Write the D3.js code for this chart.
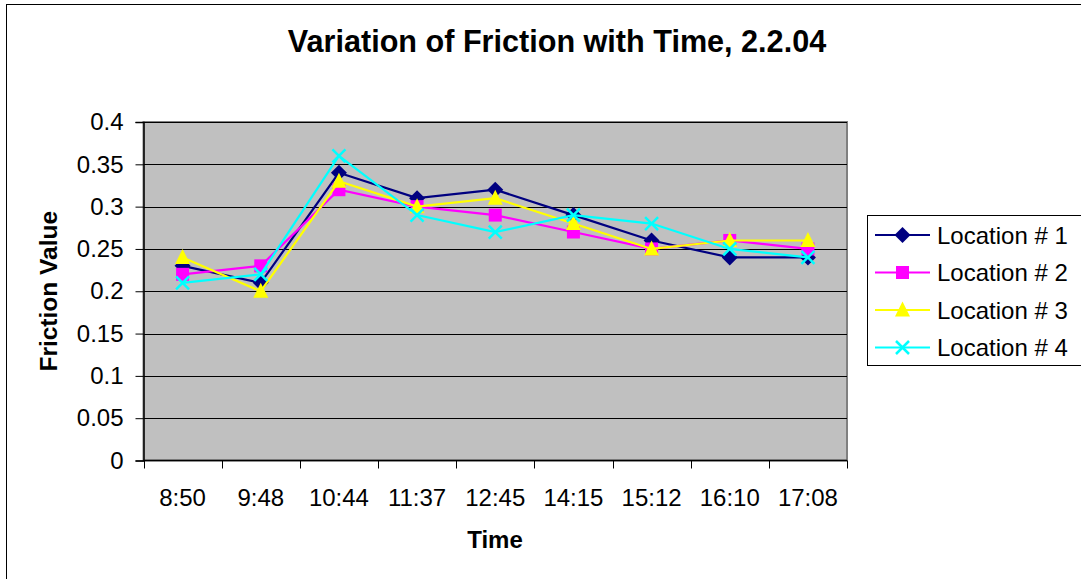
<!DOCTYPE html>
<html><head><meta charset="utf-8">
<script src="https://cdn.jsdelivr.net/npm/d3@7"></script>
<style>body{margin:0;background:#fff}svg{display:block;font-family:"Liberation Sans",Arial,sans-serif}</style>
</head><body><svg id="c" width="1081" height="579"></svg>
<script>
const categories = ["8:50","9:48","10:44","11:37","12:45","14:15","15:12","16:10","17:08"];
const loc1 = [0.23,0.21,0.34,0.31,0.32,0.29,0.26,0.24,0.24];
const loc2 = [0.22,0.23,0.32,0.30,0.29,0.27,0.25,0.26,0.25];
const loc3 = [0.24,0.20,0.33,0.30,0.31,0.28,0.25,0.26,0.26];
const loc4 = [0.21,0.22,0.36,0.29,0.27,0.29,0.28,0.25,0.24];
const seriesNames = ["Location # 1","Location # 2","Location # 3","Location # 4"];
const yTicks = [0,0.05,0.1,0.15,0.2,0.25,0.3,0.35,0.4];
const yTickLabels = ["0","0.05","0.1","0.15","0.2","0.25","0.3","0.35","0.4"];

const series = [
  {name: seriesNames[0], values: loc1, color: "#000080", marker: "diamond"},
  {name: seriesNames[1], values: loc2, color: "#FF00FF", marker: "square"},
  {name: seriesNames[2], values: loc3, color: "#FFFF00", marker: "triangle"},
  {name: seriesNames[3], values: loc4, color: "#00FFFF", marker: "x"}
];

const svg = d3.select("#c");
const L = 143.5, R = 847, T = 122, B = 460.5;

// chart border
svg.append("rect").attr("x",6.5).attr("y",4.5).attr("width",1200).attr("height",700)
  .attr("fill","#fff").attr("stroke","#000").attr("stroke-width",1);

const x = d3.scaleBand().domain(categories).range([L, R]).padding(0);
const y = d3.scaleLinear().domain([0,0.4]).range([B, T]);

// plot area
svg.append("rect").attr("x",L).attr("y",T).attr("width",R-L).attr("height",B-T)
  .attr("fill","#C0C0C0").attr("stroke","#808080").attr("stroke-width",2);

// gridlines
svg.append("g").selectAll("line").data(yTicks.filter(d=>d>0)).join("line")
  .attr("x1",L).attr("x2",R).attr("y1",d=>Math.round(y(d))+0.5).attr("y2",d=>Math.round(y(d))+0.5)
  .attr("stroke","#000").attr("stroke-width",1);

// y axis
const yAxis = d3.axisLeft(y).tickValues(yTicks).tickFormat((d,i)=>yTickLabels[i]).tickSize(8).tickPadding(12);
const gy = svg.append("g").attr("transform",`translate(${L},0)`).call(yAxis);
gy.select(".domain").attr("stroke","#000").attr("stroke-width",1.5);
gy.selectAll(".tick line").attr("stroke","#000");
gy.selectAll("text").attr("font-size",24).attr("fill","#000").attr("font-family","Liberation Sans, Arial, sans-serif");

// x axis with ticks at category boundaries
const gx = svg.append("g").attr("transform",`translate(0,${B})`);
gx.append("line").attr("x1",L).attr("x2",R).attr("y1",0).attr("y2",0).attr("stroke","#000").attr("stroke-width",1.5);
const bounds = categories.map(c=>x(c)).concat([x(categories[categories.length-1])+x.bandwidth()]);
gx.selectAll("line.t").data(bounds).join("line").attr("class","t")
  .attr("x1",d=>Math.round(d)+0.5).attr("x2",d=>Math.round(d)+0.5).attr("y1",0).attr("y2",8).attr("stroke","#000");
gx.selectAll("text").data(categories).join("text")
  .attr("x",d=>x(d)+x.bandwidth()/2).attr("y",45).attr("text-anchor","middle")
  .attr("font-size",24).attr("fill","#000").text(d=>d);

// title
svg.append("text").attr("x",557).attr("y",52).attr("text-anchor","middle")
  .attr("font-size",30.6).attr("font-weight","bold").text("Variation of Friction with Time, 2.2.04");
svg.append("text").attr("x",495).attr("y",548).attr("text-anchor","middle")
  .attr("font-size",24).attr("font-weight","bold").text("Time");
svg.append("text").attr("transform",`translate(57,${(T+B)/2}) rotate(-90)`).attr("text-anchor","middle")
  .attr("font-size",24.5).attr("font-weight","bold").text("Friction Value");

function drawMarker(g, type, color, cx, cy){
  if(type==="diamond"){
    g.append("path").attr("d",`M${cx},${cy-8}L${cx+8},${cy}L${cx},${cy+8}L${cx-8},${cy}Z`).attr("fill",color);
  } else if(type==="square"){
    g.append("rect").attr("x",cx-6.5).attr("y",cy-6.5).attr("width",13).attr("height",13).attr("fill",color);
  } else if(type==="triangle"){
    g.append("path").attr("d",`M${cx},${cy-8.5}L${cx+7.5},${cy+6.5}L${cx-7.5},${cy+6.5}Z`).attr("fill",color);
  } else {
    g.append("path").attr("d",`M${cx-6.5},${cy-6.5}L${cx+6.5},${cy+6.5}M${cx+6.5},${cy-6.5}L${cx-6.5},${cy+6.5}`)
      .attr("stroke",color).attr("stroke-width",2.5).attr("fill","none");
  }
}

const line = d3.line().x((d,i)=>x(categories[i])+x.bandwidth()/2).y(d=>y(d));
series.forEach(s=>{
  const g = svg.append("g");
  g.append("path").attr("d",line(s.values)).attr("fill","none").attr("stroke",s.color).attr("stroke-width",2.2);
  s.values.forEach((v,i)=>drawMarker(g, s.marker, s.color, x(categories[i])+x.bandwidth()/2, y(v)));
});

// legend
const lg = svg.append("g");
lg.append("rect").attr("x",867.5).attr("y",215.5).attr("width",300).attr("height",150)
  .attr("fill","#fff").attr("stroke","#000");
series.forEach((s,i)=>{
  const cy = 235 + i*37.5;
  lg.append("line").attr("x1",875).attr("x2",930).attr("y1",cy).attr("y2",cy).attr("stroke",s.color).attr("stroke-width",2.2);
  drawMarker(lg, s.marker, s.color, 902.5, cy);
  lg.append("text").attr("x",937).attr("y",cy+8.5).attr("font-size",24).attr("fill","#000").text(s.name);
});
</script></body></html>
